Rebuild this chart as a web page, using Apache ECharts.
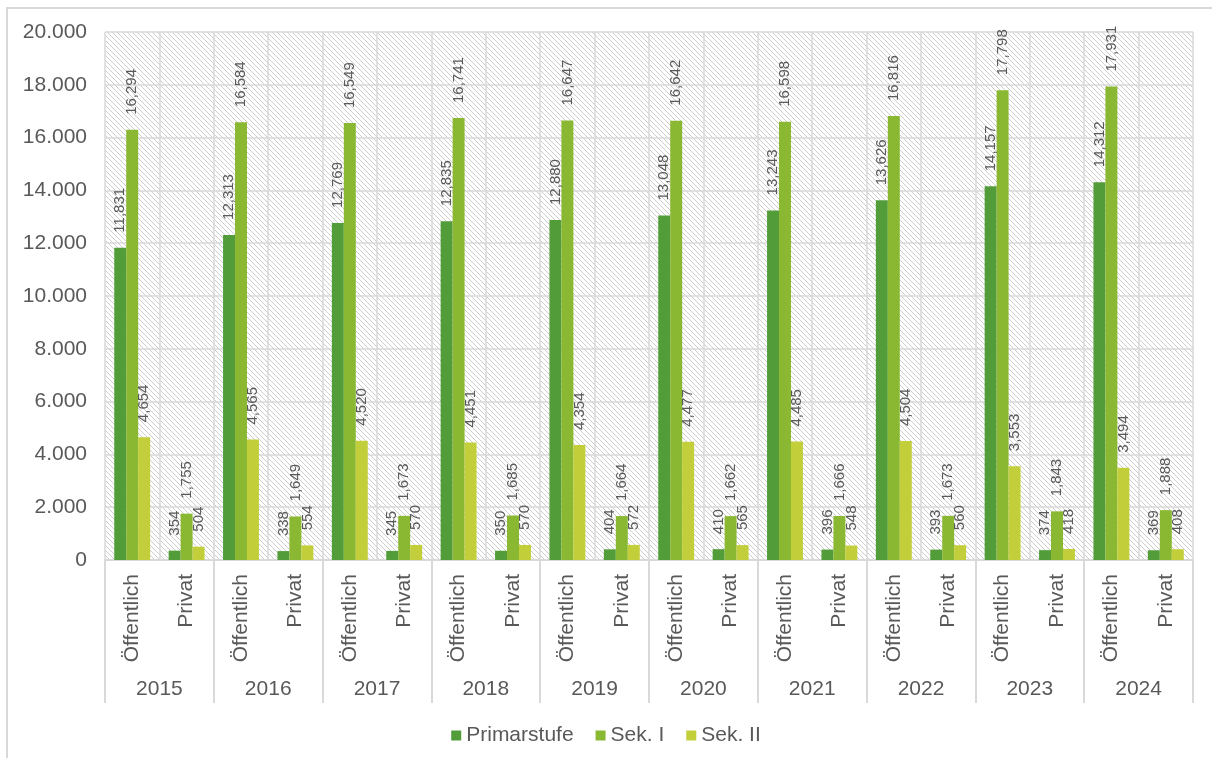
<!DOCTYPE html>
<html>
<head>
<meta charset="utf-8">
<script src="https://cdn.jsdelivr.net/npm/echarts@6/dist/echarts.min.js"></script>
<style>
html,body{margin:0;padding:0;background:#fff;}
#c{width:1212px;height:758px;}
</style>
</head>
<body>
<div id="c"></div>
<script>
const years = ['2015','2016','2017','2018','2019','2020','2021','2022','2023','2024'];
const sectors = ['Öffentlich','Privat'];
const seriesNames = ['Primarstufe','Sek. I','Sek. II'];
const yTicks = [0,2000,4000,6000,8000,10000,12000,14000,16000,18000,20000];

const primarOeff = [11831,12313,12769,12835,12880,13048,13243,13626,14157,14312];
const primarPriv = [354,338,345,350,404,410,396,393,374,369];
const sek1Oeff = [16294,16584,16549,16741,16647,16642,16598,16816,17798,17931];
const sek1Priv = [1755,1649,1673,1685,1664,1662,1666,1673,1843,1888];
const sek2Oeff = [4654,4565,4520,4451,4354,4477,4485,4504,3553,3494];
const sek2Priv = [504,554,570,570,572,565,548,560,418,408];

const colors = ['#529d3a','#8bb832','#c2cf3a'];

function interleave(a,b){const r=[];for(let i=0;i<a.length;i++){r.push(a[i]);r.push(b[i]);}return r;}
const cats = [];
years.forEach(()=>{sectors.forEach(s=>cats.push(s));});
const seriesData = [interleave(primarOeff,primarPriv),interleave(sek1Oeff,sek1Priv),interleave(sek2Oeff,sek2Priv)];

// hatch pattern
const pc = document.createElement('canvas');
pc.width = 5; pc.height = 5;
const pctx = pc.getContext('2d');
pctx.fillStyle = '#ffffff'; pctx.fillRect(0,0,5,5);
pctx.fillStyle = '#cdcdcd';
for(let i=0;i<5;i++){pctx.fillRect(i,i,1,1);}

const gridColor = '#d9d9d9';
const textColor = '#595959';
const fontFamily = 'Liberation Sans, Arial, sans-serif';

const chart = echarts.init(document.getElementById('c'));
chart.setOption({
  animation:false,
  backgroundColor:'#fff',
  textStyle:{fontFamily:fontFamily},
  graphic:[{type:'rect',shape:{x:7,y:8,width:1215,height:770},style:{fill:'none',stroke:gridColor,lineWidth:2},silent:true,z:-10}],
  grid:{left:105,right:19,top:32,bottom:198,show:true,backgroundColor:{image:pc,repeat:'repeat'},borderWidth:0},
  legend:{
    data:seriesNames,top:720,left:'center',icon:'rect',itemWidth:10,itemHeight:10,itemGap:22,
    textStyle:{fontSize:21,color:textColor,fontFamily:fontFamily}
  },
  xAxis:[
    {type:'category',data:cats,position:'bottom',
     axisLine:{show:true,lineStyle:{color:gridColor,width:2}},
     axisTick:{show:false},
     splitLine:{show:true,interval:0,lineStyle:{color:gridColor,width:1.5}},
     axisLabel:{interval:0,rotate:90,fontSize:21,color:textColor,margin:14,fontFamily:fontFamily}
    },
    {type:'category',data:years,position:'bottom',gridIndex:0,
     axisLine:{show:false},
     axisTick:{show:true,length:143,interval:0,lineStyle:{color:gridColor,width:2}},
     axisLabel:{interval:0,fontSize:21,color:textColor,margin:119,fontFamily:fontFamily},
     splitLine:{show:false}
    }
  ],
  yAxis:{type:'value',min:yTicks[0],max:yTicks[yTicks.length-1],interval:2000,
    axisLine:{show:false},axisTick:{show:false},
    splitLine:{show:true,lineStyle:{color:gridColor,width:1.5}},
    axisLabel:{fontSize:21,color:textColor,margin:18,fontFamily:fontFamily,
      formatter:v=>v===0?'0':String(v).replace(/\B(?=(\d{3})+(?!\d))/g,'.')}
  },
  series:seriesNames.map((n,i)=>({
    name:n,type:'bar',xAxisIndex:0,data:seriesData[i],
    barGap:0,barCategoryGap:'34%',
    itemStyle:{color:colors[i]},
    label:{show:true,position:'top',rotate:90,align:'left',verticalAlign:'middle',distance:15,
      fontSize:15,color:textColor,fontFamily:fontFamily,
      formatter:p=>String(p.value).replace(/\B(?=(\d{3})+(?!\d))/g,',')}
  }))
});
</script>
</body>
</html>
